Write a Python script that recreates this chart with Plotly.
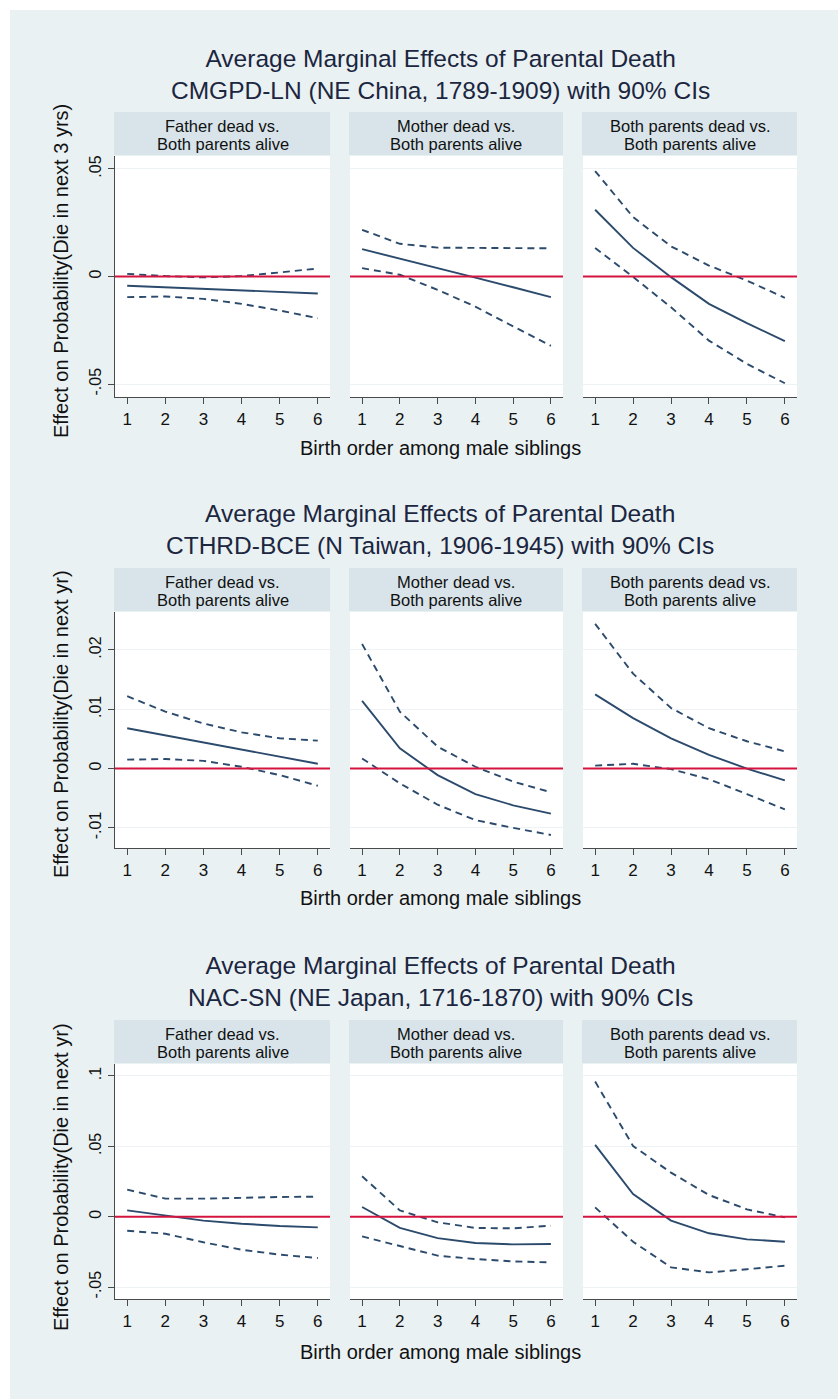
import plotly.graph_objects as go

# ---------------- data ----------------
birth_order = [1, 2, 3, 4, 5, 6]

panel_labels = [["Father dead vs.", "Both parents alive"],
                ["Mother dead vs.", "Both parents alive"],
                ["Both parents dead vs.", "Both parents alive"]]

section_titles = ["Average Marginal Effects of Parental Death<br>CMGPD-LN (NE China, 1789-1909) with 90% CIs",
                  "Average Marginal Effects of Parental Death<br>CTHRD-BCE (N Taiwan, 1906-1945) with 90% CIs",
                  "Average Marginal Effects of Parental Death<br>NAC-SN (NE Japan, 1716-1870) with 90% CIs"]

y_titles = ["Effect on Probability(Die in next 3 yrs)",
            "Effect on Probability(Die in next yr)",
            "Effect on Probability(Die in next yr)"]

x_title = "Birth order among male siblings"

# CMGPD-LN (NE China)
cn_father_est = [-0.0043, -0.0050, -0.0057, -0.0064, -0.0071, -0.0079]
cn_father_hi = [0.0012, 0.0002, -0.0004, 0.0002, 0.0019, 0.0037]
cn_father_lo = [-0.0096, -0.0093, -0.0104, -0.0127, -0.0158, -0.0194]

cn_mother_est = [0.0127, 0.0084, 0.0039, -0.0005, -0.0050, -0.0096]
cn_mother_hi = [0.0217, 0.0152, 0.0134, 0.0133, 0.0132, 0.0131]
cn_mother_lo = [0.0039, 0.0008, -0.0062, -0.0140, -0.0232, -0.0322]

cn_both_est = [0.0310, 0.0133, -0.0003, -0.0127, -0.0217, -0.0300]
cn_both_hi = [0.0490, 0.0276, 0.0140, 0.0051, -0.0019, -0.0099]
cn_both_lo = [0.0133, -0.0002, -0.0143, -0.0298, -0.0406, -0.0496]

# CTHRD-BCE (N Taiwan)
tw_father_est = [0.0068, 0.0056, 0.0044, 0.0032, 0.0020, 0.0008]
tw_father_hi = [0.0122, 0.0096, 0.0076, 0.0061, 0.0051, 0.0047]
tw_father_lo = [0.0015, 0.0016, 0.0013, 0.0003, -0.0011, -0.0029]

tw_mother_est = [0.0114, 0.0034, -0.0011, -0.0043, -0.0062, -0.0076]
tw_mother_hi = [0.0210, 0.0096, 0.0037, 0.0003, -0.0022, -0.0040]
tw_mother_lo = [0.0017, -0.0025, -0.0061, -0.0087, -0.0100, -0.0112]

tw_both_est = [0.0125, 0.0085, 0.0051, 0.0023, 0.0000, -0.0020]
tw_both_hi = [0.0244, 0.0160, 0.0102, 0.0068, 0.0046, 0.0029]
tw_both_lo = [0.0005, 0.0008, -0.0001, -0.0018, -0.0043, -0.0069]

# NAC-SN (NE Japan)
jp_father_est = [0.0045, 0.0007, -0.0028, -0.0050, -0.0066, -0.0076]
jp_father_hi = [0.0192, 0.0128, 0.0128, 0.0135, 0.0140, 0.0142]
jp_father_lo = [-0.0100, -0.0121, -0.0182, -0.0235, -0.0270, -0.0294]

jp_mother_est = [0.0069, -0.0080, -0.0152, -0.0187, -0.0197, -0.0194]
jp_mother_hi = [0.0287, 0.0045, -0.0040, -0.0080, -0.0083, -0.0064]
jp_mother_lo = [-0.0140, -0.0211, -0.0277, -0.0301, -0.0318, -0.0325]

jp_both_est = [0.0510, 0.0161, -0.0028, -0.0118, -0.0161, -0.0178]
jp_both_hi = [0.0960, 0.0502, 0.0313, 0.0154, 0.0052, -0.0005]
jp_both_lo = [0.0066, -0.0178, -0.0360, -0.0396, -0.0374, -0.0348]

cn_yticks = [-0.05, 0, 0.05]
cn_yticklabels = ["-.05", "0", ".05"]
tw_yticks = [-0.01, 0, 0.01, 0.02]
tw_yticklabels = ["-.01", "0", ".01", ".02"]
jp_yticks = [-0.05, 0, 0.05, 0.1]
jp_yticklabels = ["-.05", "0", ".05", ".1"]

sections = [
    dict(panels=[(cn_father_est, cn_father_lo, cn_father_hi),
                 (cn_mother_est, cn_mother_lo, cn_mother_hi),
                 (cn_both_est, cn_both_lo, cn_both_hi)],
         yticks=cn_yticks, ylabels=cn_yticklabels, yrange=[-0.056, 0.056]),
    dict(panels=[(tw_father_est, tw_father_lo, tw_father_hi),
                 (tw_mother_est, tw_mother_lo, tw_mother_hi),
                 (tw_both_est, tw_both_lo, tw_both_hi)],
         yticks=tw_yticks, ylabels=tw_yticklabels, yrange=[-0.0134, 0.0264]),
    dict(panels=[(jp_father_est, jp_father_lo, jp_father_hi),
                 (jp_mother_est, jp_mother_lo, jp_mother_hi),
                 (jp_both_est, jp_both_lo, jp_both_hi)],
         yticks=jp_yticks, ylabels=jp_yticklabels, yrange=[-0.0585, 0.1085]),
]

# ---------------- layout geometry (window pixels) ----------------
W, H = 838, 1399
panel_x = [(115, 330), (350, 563), (583, 797)]
sec_geom = [  # strip top, plot top, plot bottom, title center, xtitle y, ytitle center y
    dict(strip=112, top=156, bot=397, title=74.5, xt=448, yt=271),
    dict(strip=568, top=612, bot=848, title=529.5, xt=898, yt=724),
    dict(strip=1020, top=1064, bot=1299, title=981.5, xt=1352, yt=1177),
]


def px(x):
    return x / W


def py(y):
    return 1 - y / H


BG = "#eaf1f3"
STRIP = "#d8e4ea"
NAVY = "#2b4a6c"
RED = "#d4143f"
AXIS = "#4a4a4a"
TXT = "#111111"
FONT = "Liberation Sans, Arial, Helvetica, sans-serif"

fig = go.Figure()
layout = dict(
    width=W, height=H,
    margin=dict(l=0, r=0, t=0, b=0),
    paper_bgcolor=BG, plot_bgcolor="white",
    showlegend=False,
    shapes=[], annotations=[],
)

# white outer border (top and left)
layout["shapes"].append(dict(type="rect", xref="paper", yref="paper",
                             x0=0, x1=1, y0=py(10), y1=1,
                             fillcolor="white", line=dict(width=0), layer="below"))
layout["shapes"].append(dict(type="rect", xref="paper", yref="paper",
                             x0=0, x1=px(10), y0=0, y1=1,
                             fillcolor="white", line=dict(width=0), layer="below"))

idx = 0
for s, (sec, g) in enumerate(zip(sections, sec_geom)):
    for p, (est, lo, hi) in enumerate(sec["panels"]):
        idx += 1
        xa = "x" if idx == 1 else f"x{idx}"
        ya = "y" if idx == 1 else f"y{idx}"
        xkey = "xaxis" if idx == 1 else f"xaxis{idx}"
        ykey = "yaxis" if idx == 1 else f"yaxis{idx}"
        x0, x1 = panel_x[p]
        layout[xkey] = dict(
            domain=[px(x0), px(x1)], anchor=ya, range=[0.68, 6.32],
            tickvals=birth_order, ticktext=[str(v) for v in birth_order],
            showline=True, linecolor=AXIS, linewidth=1.3,
            ticks="outside", ticklen=6, tickwidth=1.3, tickcolor=AXIS,
            showgrid=False, zeroline=False,
            tickfont=dict(family=FONT, size=17, color=TXT),
        )
        first = (p == 0)
        layout[ykey] = dict(
            domain=[py(g["bot"]), py(g["top"])], anchor=xa, range=sec["yrange"],
            tickvals=sec["yticks"], ticktext=sec["ylabels"],
            showgrid=True, gridcolor="#edf2f4", gridwidth=1.2, zeroline=False,
            showline=first, linecolor=AXIS, linewidth=1.3,
            ticks="outside" if first else "", ticklen=6, tickwidth=1.3, tickcolor=AXIS,
            showticklabels=first, tickangle=-90,
            tickfont=dict(family=FONT, size=16, color=TXT),
        )
        # reference line at zero
        layout["shapes"].append(dict(type="line", xref=xa, yref=ya,
                                     x0=0.68, x1=6.32, y0=0, y1=0,
                                     line=dict(color=RED, width=2), layer="above"))
        # strip
        layout["shapes"].append(dict(type="rect", xref="paper", yref="paper",
                                     x0=px(x0 - 1), x1=px(x1), y0=py(g["top"] - 1), y1=py(g["strip"]),
                                     fillcolor=STRIP, line=dict(width=0), layer="below"))
        for k, line_txt in enumerate(panel_labels[p]):
            layout["annotations"].append(dict(
                xref="paper", yref="paper", x=px((x0 + x1) / 2), y=py(g["strip"] + 14 + 18 * k),
                text=line_txt, showarrow=False, xanchor="center", yanchor="middle",
                font=dict(family=FONT, size=16.5, color=TXT)))
        # traces
        fig.add_trace(go.Scatter(x=birth_order, y=hi, mode="lines", xaxis=xa, yaxis=ya,
                                 line=dict(color=NAVY, width=1.9, dash="7px,5px")))
        fig.add_trace(go.Scatter(x=birth_order, y=lo, mode="lines", xaxis=xa, yaxis=ya,
                                 line=dict(color=NAVY, width=1.9, dash="7px,5px")))
        fig.add_trace(go.Scatter(x=birth_order, y=est, mode="lines", xaxis=xa, yaxis=ya,
                                 line=dict(color=NAVY, width=1.9)))

    # section title
    layout["annotations"].append(dict(
        xref="paper", yref="paper", x=px(440), y=py(g["title"]),
        text=section_titles[s], showarrow=False, xanchor="center", yanchor="middle",
        font=dict(family=FONT, size=24.5, color="#1b2640")))
    # x title
    layout["annotations"].append(dict(
        xref="paper", yref="paper", x=px(440), y=py(g["xt"]),
        text=x_title, showarrow=False, xanchor="center", yanchor="middle",
        font=dict(family=FONT, size=20, color=TXT)))
    # y title
    layout["annotations"].append(dict(
        xref="paper", yref="paper", x=px(61), y=py(g["yt"]),
        text=y_titles[s], showarrow=False, xanchor="center", yanchor="middle",
        textangle=-90, font=dict(family=FONT, size=20, color=TXT)))

fig.update_layout(**layout)
fig.write_html(
    "out.html",
    config={"displayModeBar": False},
    post_script="document.body.style.margin='0px';document.body.style.overflow='hidden';",
)
